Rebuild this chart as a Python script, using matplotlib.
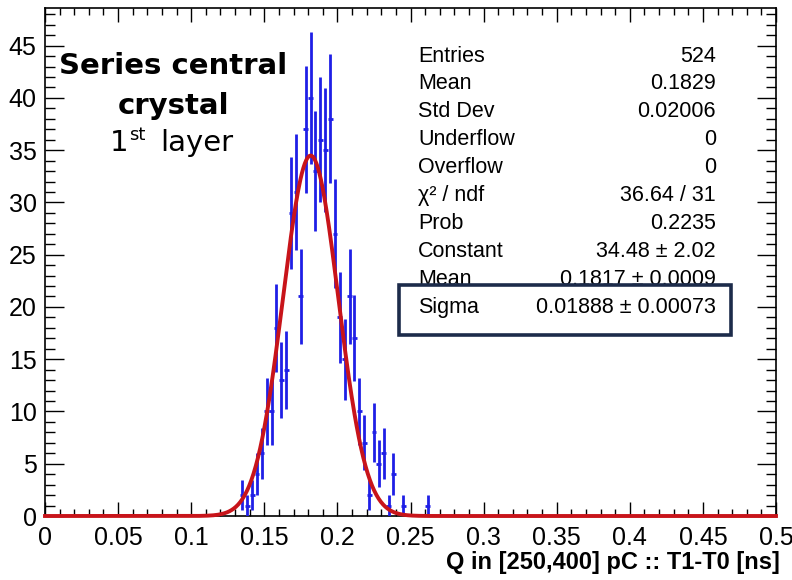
import numpy as np
import matplotlib
matplotlib.use("Agg")
import matplotlib.pyplot as plt
from matplotlib.patches import Rectangle
from matplotlib.ticker import MultipleLocator

# histogram: 150 bins on [0, 0.5], only non-empty bins listed
nbins = 150
xmin_h = 0.0
xmax_h = 0.5
bin_idx = [40, 41, 42, 43, 44, 45, 46, 47, 48, 49, 50, 51, 52, 53, 54, 55, 56,
           57, 58, 59, 60, 61, 62, 63, 64, 65, 66, 67, 68, 69, 70, 71, 73, 78]
counts = [2, 1, 2, 4, 6, 10, 10, 18, 13, 14, 29, 31, 21, 37, 40, 33, 36,
          35, 38, 27, 19, 15, 21, 17, 10, 7, 2, 8, 5, 6, 1, 4, 1, 1]

# gaussian fit result
fit_const = 34.48
fit_mean = 0.1817
fit_sigma = 0.01888

stat_labels = ["Entries", "Mean", "Std Dev", "Underflow", "Overflow",
               "\u03c7\u00b2 / ndf", "Prob", "Constant", "Mean", "Sigma"]
stat_values = ["524", "0.1829", "0.02006", "0", "0", "36.64 / 31", "0.2235",
               "34.48 \u00b1 2.02", "0.1817 \u00b1 0.0009", "0.01888 \u00b1 0.00073"]
xtick_labels = ["0", "0.05", "0.1", "0.15", "0.2", "0.25", "0.3", "0.35",
                "0.4", "0.45", "0.5"]

W, H = 792, 580
fig = plt.figure(figsize=(W / 100, H / 100), dpi=100)
ax = fig.add_axes([45 / W, 1 - 516 / H, (776 - 45) / W, (516 - 8) / H])

bw = (xmax_h - xmin_h) / nbins
xc = xmin_h + (np.array(bin_idx) + 0.5) * bw
yc = np.array(counts, dtype=float)
ax.errorbar(xc, yc, yerr=np.sqrt(yc), xerr=bw / 2, fmt="none",
            ecolor="#1f1fe6", elinewidth=2.0, capsize=0, zorder=3)

xs = np.linspace(0, 0.5, 1000)
ax.plot(xs, fit_const * np.exp(-0.5 * ((xs - fit_mean) / fit_sigma) ** 2),
        color="#c8141a", lw=2.8, zorder=4, clip_on=False)

ax.set_xlim(0, 0.5)
ax.set_ylim(0, 48.6)
ax.set_xticks(np.arange(0, 0.51, 0.05))
ax.set_xticklabels(xtick_labels)
ax.xaxis.set_minor_locator(MultipleLocator(0.01))
ax.yaxis.set_major_locator(MultipleLocator(5))
ax.yaxis.set_minor_locator(MultipleLocator(1))
ax.tick_params(axis="x", which="major", direction="in", length=10, width=1,
               top=True, labelsize=18, pad=7)
ax.tick_params(axis="x", which="minor", direction="in", length=5, width=1, top=True)
ax.tick_params(axis="y", which="major", direction="in", length=14, width=1,
               right=True, labelsize=18, pad=6)
ax.tick_params(axis="y", which="minor", direction="in", length=7, width=1, right=True)
for lab in ax.get_xticklabels() + ax.get_yticklabels():
    lab.set_family("Liberation Sans")
for sp in ax.spines.values():
    sp.set_linewidth(1.2)

fig.text(780 / W, 1 - 562 / H, "Q in [250,400] pC :: T1-T0 [ns]", ha="right",
         va="center", fontsize=17, fontweight="bold", family="Liberation Sans")

# stats box
y0 = 56
for i in range(len(stat_labels)):
    yy = 1 - (y0 + i * 27.9) / H
    z = 6 if i == len(stat_labels) - 1 else 3
    fig.text(418 / W, yy, stat_labels[i], ha="left", va="center",
             fontsize=15.5, family="Liberation Sans", zorder=z)
    fig.text(716 / W, yy, stat_values[i], ha="right", va="center",
             fontsize=15.5, family="Liberation Sans", zorder=z)

# highlight box round sigma (covers bottom of the Mean row)
box = Rectangle((399 / W, 1 - 335 / H), (731 - 399) / W, (335 - 285) / H,
                transform=fig.transFigure, facecolor="white",
                edgecolor="#1c2b4a", lw=2.6, zorder=5)
fig.add_artist(box)

# label in upper left
fig.text(173 / W, 1 - 66 / H, "Series central", ha="center", va="center",
         fontsize=21, fontweight="bold", family="DejaVu Sans")
fig.text(174 / W, 1 - 106 / H, "crystal", ha="center", va="center",
         fontsize=21, fontweight="bold", family="DejaVu Sans")
fig.text(110 / W, 1 - 143 / H, "1", ha="left", va="center", fontsize=21,
         family="DejaVu Sans")
fig.text(129 / W, 1 - 135 / H, "st", ha="left", va="center", fontsize=13,
         family="DejaVu Sans")
fig.text(160 / W, 1 - 143 / H, "layer", ha="left", va="center", fontsize=21,
         family="DejaVu Sans")

fig.savefig("out.png", dpi=100)
